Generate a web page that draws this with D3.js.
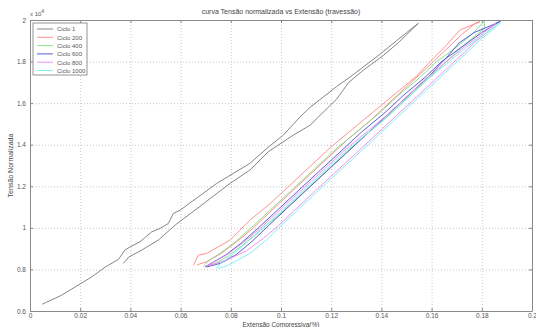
<!DOCTYPE html>
<html>
<head>
<meta charset="utf-8">
<script src="https://cdn.jsdelivr.net/npm/d3@7"></script>
<style>
    body { margin: 0; background: #fff; }
    svg { display: block; font-family: "Liberation Sans", Arial, sans-serif; }
    .grid line { stroke: #c8c8c8; stroke-dasharray: 1,2; }
    .grid path { display: none; }
</style>
</head>
<body>
<div id="view"></div>
<script>
// tick values
const xTicks = [0, 0.02, 0.04, 0.06, 0.08, 0.1, 0.12, 0.14, 0.16, 0.18, 0.2];
const yTicks = [0.6, 0.8, 1, 1.2, 1.4, 1.6, 1.8, 2];

// series names / colours
const seriesNames = ['Ciclo 1', 'Ciclo 200', 'Ciclo 400', 'Ciclo 600', 'Ciclo 800', 'Ciclo 1000'];
const seriesColors = ['#777777', '#ff8484', '#7ede7e', '#4a4ad2', '#ec86ec', '#72eeee'];

// each cycle: loading branch then unloading branch, [extension, tension]
const ciclo1 = [
    [0.0049, 0.633], [0.0126, 0.676], [0.0246, 0.764], [0.0299, 0.811], [0.0352, 0.848],
    [0.0378, 0.893], [0.0398, 0.908], [0.0438, 0.933], [0.0485, 0.981], [0.0518, 0.997],
    [0.0551, 1.021], [0.0571, 1.069], [0.0598, 1.085], [0.0744, 1.214], [0.0876, 1.31],
    [0.0943, 1.382], [0.1009, 1.446], [0.1076, 1.534], [0.1116, 1.58], [0.1222, 1.68],
    [0.128, 1.73], [0.1394, 1.835], [0.146, 1.90], [0.1547, 1.984],
    [0.1467, 1.89], [0.1408, 1.83], [0.133, 1.76], [0.127, 1.70], [0.1222, 1.62],
    [0.1116, 1.494], [0.1049, 1.446], [0.0949, 1.366], [0.0876, 1.278], [0.0797, 1.214],
    [0.0657, 1.085], [0.0578, 1.013], [0.0511, 0.941], [0.0445, 0.893], [0.0394, 0.86],
    [0.0372, 0.829]
];
const ciclo200 = [
    [0.0651, 0.820], [0.0671, 0.869], [0.0704, 0.877], [0.0797, 0.941], [0.0876, 1.037],
    [0.096, 1.12], [0.104, 1.21], [0.112, 1.30], [0.120, 1.39], [0.128, 1.47],
    [0.137, 1.56], [0.146, 1.65], [0.154, 1.73], [0.1607, 1.816], [0.166, 1.88],
    [0.1713, 1.952], [0.1793, 1.992],
    [0.1775, 1.985], [0.172, 1.93], [0.166, 1.86], [0.159, 1.78], [0.151, 1.69],
    [0.143, 1.60], [0.135, 1.51], [0.127, 1.43], [0.119, 1.34], [0.111, 1.25],
    [0.103, 1.16], [0.096, 1.08], [0.089, 1.00], [0.082, 0.93], [0.076, 0.875],
    [0.070, 0.835], [0.0665, 0.822]
];
const ciclo400 = [
    [0.0690, 0.815], [0.0715, 0.845], [0.076, 0.880], [0.082, 0.935], [0.089, 1.01],
    [0.097, 1.10], [0.105, 1.19], [0.113, 1.28], [0.122, 1.38], [0.130, 1.46],
    [0.139, 1.55], [0.147, 1.64], [0.155, 1.72], [0.162, 1.80], [0.170, 1.87],
    [0.176, 1.93], [0.181, 1.995],
    [0.181, 1.96], [0.178, 1.93], [0.172, 1.87], [0.165, 1.79], [0.157, 1.70],
    [0.149, 1.61], [0.141, 1.52], [0.132, 1.43], [0.124, 1.34], [0.116, 1.25],
    [0.107, 1.15], [0.099, 1.06], [0.092, 0.99], [0.085, 0.92], [0.079, 0.865],
    [0.074, 0.83], [0.0700, 0.815]
];
const ciclo600 = [
    [0.0697, 0.812], [0.073, 0.835], [0.078, 0.870], [0.084, 0.925], [0.091, 1.00],
    [0.099, 1.09], [0.107, 1.18], [0.115, 1.27], [0.124, 1.37], [0.132, 1.46],
    [0.141, 1.55], [0.149, 1.64], [0.157, 1.72], [0.164, 1.80], [0.172, 1.87],
    [0.180, 1.94], [0.1875, 1.995],
    [0.184, 1.975], [0.177, 1.94], [0.171, 1.89], [0.166, 1.82], [0.159, 1.73],
    [0.151, 1.64], [0.143, 1.55], [0.135, 1.46], [0.127, 1.37], [0.118, 1.27],
    [0.110, 1.18], [0.102, 1.09], [0.095, 1.01], [0.088, 0.93], [0.082, 0.87],
    [0.076, 0.83], [0.0705, 0.812]
];
const ciclo800 = [
    [0.0705, 0.818], [0.074, 0.840], [0.079, 0.875], [0.085, 0.93], [0.092, 1.00],
    [0.100, 1.09], [0.108, 1.18], [0.117, 1.28], [0.125, 1.37], [0.133, 1.45],
    [0.142, 1.54], [0.150, 1.63], [0.158, 1.72], [0.166, 1.80], [0.173, 1.87],
    [0.180, 1.93], [0.186, 1.99],
    [0.183, 1.95], [0.177, 1.89], [0.170, 1.81], [0.162, 1.72], [0.154, 1.63],
    [0.146, 1.54], [0.138, 1.45], [0.130, 1.36], [0.121, 1.26], [0.113, 1.17],
    [0.105, 1.08], [0.099, 1.01], [0.093, 0.95], [0.0863, 0.89], [0.0797, 0.853],
    [0.0744, 0.829], [0.0710, 0.818]
];
const ciclo1000 = [
    [0.0744, 0.805], [0.076, 0.830], [0.080, 0.865], [0.086, 0.925], [0.093, 1.00],
    [0.101, 1.09], [0.109, 1.18], [0.118, 1.28], [0.126, 1.37], [0.134, 1.45],
    [0.143, 1.54], [0.151, 1.63], [0.159, 1.72], [0.167, 1.80], [0.174, 1.87],
    [0.181, 1.93], [0.1875, 1.99],
    [0.185, 1.96], [0.179, 1.90], [0.172, 1.82], [0.164, 1.73], [0.156, 1.64],
    [0.148, 1.55], [0.140, 1.46], [0.132, 1.37], [0.123, 1.27], [0.115, 1.18],
    [0.107, 1.09], [0.100, 1.01], [0.094, 0.94], [0.088, 0.88], [0.082, 0.84],
    [0.078, 0.815], [0.0750, 0.805]
];

const series = [ciclo1, ciclo200, ciclo400, ciclo600, ciclo800, ciclo1000];

const W = 536, H = 327;
const margin = {top: 20, left: 30, right: 4, bottom: 16};
const width = W - margin.left - margin.right;
const height = H - margin.top - margin.bottom;

const svg = d3.select('#view')
    .append('svg')
        .attr('width', W)
        .attr('height', H);
const g = svg.append('g')
    .attr('transform', `translate(${margin.left},${margin.top})`);

const x = d3.scaleLinear().domain([0, 0.2]).range([0, width]);
const y = d3.scaleLinear().domain([0.6, 2]).range([height, 0]);

// grid
g.append('g')
    .attr('class', 'grid')
    .attr('transform', `translate(0, ${height})`)
    .call(d3.axisBottom(x).tickValues(xTicks).tickSize(-height).tickFormat(''));
g.append('g')
    .attr('class', 'grid')
    .call(d3.axisLeft(y).tickValues(yTicks).tickSize(-width).tickFormat(''));

// lines
const line = d3.line()
    .x(d => x(d[0]))
    .y(d => y(d[1]));
series.forEach((s, i) => {
    g.append('path')
        .datum(s)
        .attr('fill', 'none')
        .attr('stroke', seriesColors[i])
        .attr('stroke-width', 0.9)
        .attr('stroke-linejoin', 'round')
        .attr('d', line);
});

// axes box, ticks inward on all sides
function styleAxis(sel) {
    sel.select('.domain').attr('stroke', '#8a8a8a');
    sel.selectAll('.tick line').attr('stroke', '#8a8a8a');
    sel.selectAll('.tick text').attr('fill', '#555').attr('font-size', 6.5);
}
g.append('g')
    .attr('transform', `translate(0, ${height})`)
    .call(d3.axisBottom(x).tickValues(xTicks).tickSize(-3).tickSizeOuter(0).tickPadding(2).tickFormat(d3.format('')))
    .call(styleAxis);
g.append('g')
    .call(d3.axisTop(x).tickValues(xTicks).tickSize(-3).tickSizeOuter(0).tickFormat(''))
    .call(styleAxis);
g.append('g')
    .call(d3.axisLeft(y).tickValues(yTicks).tickSize(-3).tickSizeOuter(0).tickPadding(4).tickFormat(d3.format('')))
    .call(styleAxis);
g.append('g')
    .attr('transform', `translate(${width}, 0)`)
    .call(d3.axisRight(y).tickValues(yTicks).tickSize(-3).tickSizeOuter(0).tickFormat(''))
    .call(styleAxis);

// exponent
const ex = svg.append('text')
    .attr('x', margin.left)
    .attr('y', 16)
    .attr('font-size', 6)
    .attr('fill', '#555');
ex.append('tspan').text('x 10');
ex.append('tspan').attr('dy', -3).attr('font-size', 5).text('4');

// title and labels
svg.append('text')
    .attr('x', margin.left + width / 2)
    .attr('y', 14)
    .attr('text-anchor', 'middle')
    .attr('font-size', 7)
    .attr('fill', '#444')
    .text('curva Tensão normalizada vs Extensão (travessão)');
svg.append('text')
    .attr('x', margin.left + width / 2)
    .attr('y', 326.5)
    .attr('text-anchor', 'middle')
    .attr('font-size', 6.5)
    .attr('fill', '#444')
    .text('Extensão Compressiva(%)');
svg.append('text')
    .attr('transform', `translate(13, ${margin.top + height / 2}) rotate(-90)`)
    .attr('text-anchor', 'middle')
    .attr('font-size', 7)
    .attr('fill', '#444')
    .text('Tensão Normalizada');

// legend
const legend = svg.append('g').attr('transform', 'translate(33, 23)');
legend.append('rect')
    .attr('width', 54)
    .attr('height', 52)
    .attr('fill', '#fff')
    .attr('stroke', '#7a7a7a')
    .attr('stroke-width', 0.8);
seriesNames.forEach((name, i) => {
    const ly = 6 + i * 8.3;
    legend.append('line')
        .attr('x1', 4).attr('x2', 20)
        .attr('y1', ly).attr('y2', ly)
        .attr('stroke', seriesColors[i])
        .attr('stroke-width', 0.9);
    legend.append('text')
        .attr('x', 24)
        .attr('y', ly + 2.3)
        .attr('font-size', 6)
        .attr('fill', '#555')
        .text(name);
});
</script>
</body>
</html>
